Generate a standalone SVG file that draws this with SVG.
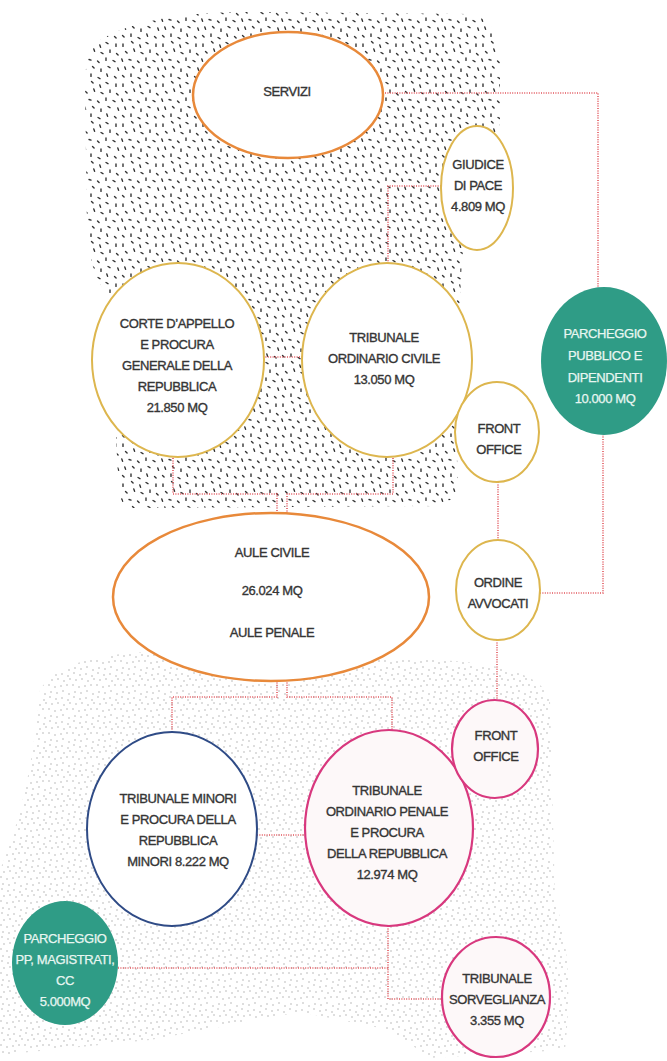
<svg xmlns="http://www.w3.org/2000/svg" width="667" height="1061" viewBox="0 0 667 1061">
  <defs>
    <!-- dark dash stipple for the upper zone -->
    <pattern id="dashes" width="40" height="40" patternUnits="userSpaceOnUse">
      <path fill="none" stroke="#333333" stroke-width="1.4" stroke-linecap="round" d="
        M3,4 l0,2.4 M11.5,1.5 l1.6,1.6 M19.8,5 l0.8,2.4 M26,2.5 l2,1.2 M36,4 l0,2.4
        M5.5,11.5 l1.6,1.6 M13.8,9 l0.8,2.4 M21,12.5 l2,1.2 M30,10 l0,2.4 M36.5,13.5 l1.6,1.6
        M1.8,19 l0.8,2.4 M9,19.5 l2,0.6 M17.5,21 l1.6,1.6 M26,18 l0,2.4 M33,20.5 l2,1.2
        M4.8,27 l0.8,2.4 M12.5,26.5 l1.6,1.6 M21,29 l0,2.4 M28,26.5 l2,1.2 M37.8,28 l0.8,2.4
        M2.5,35.5 l1.6,1.6 M11,34 l0,2.4 M18,37.5 l2,1.2 M26.8,34 l0.8,2.4 M34.5,36.5 l1.6,1.6"/>
    </pattern>
    <!-- fine grey dot stipple for the lower zone -->
    <pattern id="dots" width="24" height="24" patternUnits="userSpaceOnUse">
      <g fill="#b4b4b4">
        <circle cx="2" cy="1" r="0.8"/><circle cx="8" cy="3" r="0.8"/><circle cx="14" cy="2" r="0.8"/><circle cx="20" cy="4" r="0.8"/>
        <circle cx="4" cy="8" r="0.8"/><circle cx="10" cy="7" r="0.8"/><circle cx="16" cy="9" r="0.8"/><circle cx="22" cy="7" r="0.8"/>
        <circle cx="1" cy="13" r="0.8"/><circle cx="7" cy="15" r="0.8"/><circle cx="13" cy="14" r="0.8"/><circle cx="19" cy="13" r="0.8"/>
        <circle cx="3" cy="20" r="0.8"/><circle cx="9" cy="21" r="0.8"/><circle cx="15" cy="19" r="0.8"/><circle cx="21" cy="22" r="0.8"/>
      </g>
    </pattern>
  </defs>
  <style>
    .lbl { font-family: "Liberation Sans", Arial, sans-serif; font-size: 13px; letter-spacing: -0.4px; fill: #353535; stroke: #353535; stroke-width: 0.35; text-anchor: middle; }
    .lbl-w { fill: #e8f6f1; stroke: #e8f6f1; stroke-width: 0.25; }
    .orange { fill: #ffffff; stroke: #e8893a; stroke-width: 2.5; }
    .gold { fill: #ffffff; stroke: #ddb64e; stroke-width: 2; }
    .blue { fill: #ffffff; stroke: #2f4b86; stroke-width: 2; }
    .pink { fill: #fdf8f9; stroke: #d8387e; stroke-width: 2.2; }
    .teal { fill: #2f9c86; stroke: none; }
    .link { fill: none; stroke: #e2565c; stroke-width: 1.6; stroke-dasharray: 1 1.4; }
  </style>

  <rect width="667" height="1061" fill="#ffffff"/>

  <!-- stippled zones -->
  <path id="zone-upper" fill="url(#dashes)" d="M100,40 Q150,10 260,12 L470,14 Q500,20 500,60 L500,118 Q498,150 470,170 L462,262 L455,380 L458,490 Q450,508 420,506 L130,508 Q118,505 118,480 L110,300 Q88,270 87,230 L85,80 Q86,50 100,40 Z"/>
  <path id="zone-lower" fill="url(#dots)" d="M40,690 Q60,655 150,652 L440,660 Q540,665 550,700 L555,900 Q575,960 565,1050 L430,1058 L390,1030 L300,1012 L150,1040 L0,1055 L0,870 Q30,800 40,690 Z"/>

  <!-- connectors -->
  <g id="connectors" class="link">
    <path d="M385,93 H598 V287"/>
    <path d="M441,186 H388 V264"/>
    <path d="M263,357 H303"/>
    <path d="M173,458 V494 H277 V514"/>
    <path d="M393,458 V494 H287 V514"/>
    <path d="M498,482 V540"/>
    <path d="M540,593 H603 V435"/>
    <path d="M497,640 V700"/>
    <path d="M277,680 V697 H172 V732"/>
    <path d="M287,680 V697 H392 V731"/>
    <path d="M257,835 H305"/>
    <path d="M388,926 V999 H443"/>
    <path d="M118,968 H388"/>
  </g>

  <!-- nodes -->
  <g id="servizi">
    <ellipse class="orange" cx="288" cy="95" rx="95" ry="63"/>
    <text class="lbl" x="287" y="96">SERVIZI</text>
  </g>

  <g id="giudice-di-pace">
    <ellipse class="gold" cx="477" cy="188" rx="36" ry="62"/>
    <text class="lbl" x="478" y="169">GIUDICE</text>
    <text class="lbl" x="478" y="190">DI PACE</text>
    <text class="lbl" x="478" y="211">4.809 MQ</text>
  </g>

  <g id="corte-appello">
    <ellipse class="gold" cx="178" cy="360" rx="86" ry="97"/>
    <text class="lbl" x="177" y="328">CORTE D’APPELLO</text>
    <text class="lbl" x="177" y="349">E PROCURA</text>
    <text class="lbl" x="177" y="370">GENERALE DELLA</text>
    <text class="lbl" x="177" y="391">REPUBBLICA</text>
    <text class="lbl" x="177" y="412">21.850 MQ</text>
  </g>

  <g id="tribunale-civile">
    <ellipse class="gold" cx="387" cy="360" rx="85" ry="97"/>
    <text class="lbl" x="384" y="342">TRIBUNALE</text>
    <text class="lbl" x="384" y="363">ORDINARIO CIVILE</text>
    <text class="lbl" x="384" y="384">13.050 MQ</text>
  </g>

  <g id="front-office-civile">
    <ellipse class="gold" cx="497" cy="432" rx="42" ry="50"/>
    <text class="lbl" x="499" y="433">FRONT</text>
    <text class="lbl" x="499" y="454">OFFICE</text>
  </g>

  <g id="parcheggio-pubblico">
    <ellipse class="teal" cx="604" cy="361" rx="63" ry="74"/>
    <text class="lbl lbl-w" x="605" y="338">PARCHEGGIO</text>
    <text class="lbl lbl-w" x="605" y="360">PUBBLICO E</text>
    <text class="lbl lbl-w" x="605" y="382">DIPENDENTI</text>
    <text class="lbl lbl-w" x="605" y="403">10.000 MQ</text>
  </g>

  <g id="aule">
    <ellipse class="orange" cx="271" cy="597" rx="158" ry="84"/>
    <text class="lbl" x="272" y="557">AULE CIVILE</text>
    <text class="lbl" x="272" y="595">26.024 MQ</text>
    <text class="lbl" x="272" y="637">AULE PENALE</text>
  </g>

  <g id="ordine-avvocati">
    <ellipse class="gold" cx="498" cy="590" rx="42" ry="50"/>
    <text class="lbl" x="498" y="587">ORDINE</text>
    <text class="lbl" x="498" y="608">AVVOCATI</text>
  </g>

  <g id="tribunale-minori">
    <ellipse class="blue" cx="172" cy="829" rx="85" ry="97"/>
    <text class="lbl" x="178" y="803">TRIBUNALE MINORI</text>
    <text class="lbl" x="178" y="824">E PROCURA DELLA</text>
    <text class="lbl" x="178" y="845">REPUBBLICA</text>
    <text class="lbl" x="178" y="866">MINORI 8.222 MQ</text>
  </g>

  <g id="tribunale-penale">
    <ellipse class="pink" cx="389" cy="828" rx="84" ry="98"/>
    <text class="lbl" x="387" y="795">TRIBUNALE</text>
    <text class="lbl" x="387" y="816">ORDINARIO PENALE</text>
    <text class="lbl" x="387" y="837">E PROCURA</text>
    <text class="lbl" x="387" y="858">DELLA REPUBBLICA</text>
    <text class="lbl" x="387" y="879">12.974 MQ</text>
  </g>

  <g id="front-office-penale">
    <ellipse class="pink" cx="495" cy="749" rx="43" ry="49"/>
    <text class="lbl" x="496" y="740">FRONT</text>
    <text class="lbl" x="496" y="761">OFFICE</text>
  </g>

  <g id="parcheggio-magistrati">
    <ellipse class="teal" cx="65" cy="963" rx="53" ry="62"/>
    <text class="lbl lbl-w" x="65" y="943">PARCHEGGIO</text>
    <text class="lbl lbl-w" x="65" y="964">PP, MAGISTRATI,</text>
    <text class="lbl lbl-w" x="65" y="985">CC</text>
    <text class="lbl lbl-w" x="65" y="1006">5.000MQ</text>
  </g>

  <g id="tribunale-sorveglianza">
    <ellipse class="pink" cx="496" cy="997" rx="54" ry="60"/>
    <text class="lbl" x="497" y="983">TRIBUNALE</text>
    <text class="lbl" x="497" y="1004">SORVEGLIANZA</text>
    <text class="lbl" x="497" y="1025">3.355 MQ</text>
  </g>
</svg>
